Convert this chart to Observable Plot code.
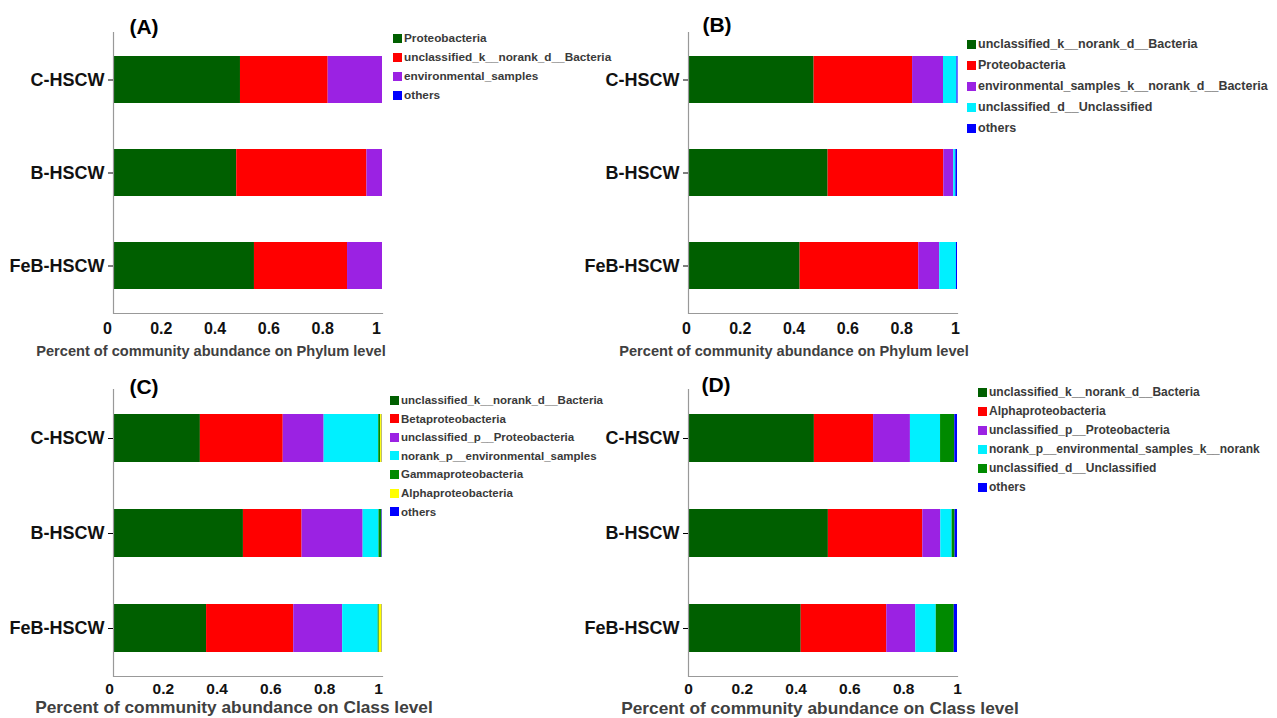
<!DOCTYPE html>
<html>
<head>
<meta charset="utf-8">
<script src="https://cdn.jsdelivr.net/npm/d3@7"></script>
<script src="https://cdn.jsdelivr.net/npm/@observablehq/plot@0.6"></script>
<style>
  html, body { margin: 0; padding: 0; background: #fff; }
  #root { position: relative; width: 1277px; height: 718px; overflow: hidden; font-family: "Liberation Sans", Arial, sans-serif; }
  .panel { position: absolute; }
  .lbl { position: absolute; white-space: nowrap; font-weight: bold; transform: translate(-50%, -50%); }
  .legrow { position: absolute; display: flex; align-items: center; white-space: nowrap; font-weight: bold; color: #3a3a3a; }
  .sw { display: inline-block; width: 9px; height: 9px; margin-right: 2px; }
</style>
</head>
<body>
<div id="root"></div>
<script>
// ---------- data ----------
const samples = ["C-HSCW", "B-HSCW", "FeB-HSCW"];
const xTicks = [0, 0.2, 0.4, 0.6, 0.8, 1];

// (A) Phylum
const taxaA = ["Proteobacteria", "unclassified_k__norank_d__Bacteria", "environmental_samples", "others"];
const colorsA = ["#005f00", "#ff0000", "#9b22e3", "#0000ff"];
const valuesA = [
  [0.472, 0.458, 0.524],
  [0.326, 0.484, 0.346],
  [0.202, 0.058, 0.130],
  [0.000, 0.000, 0.000]
];

// (B) Phylum
const taxaB = ["unclassified_k__norank_d__Bacteria", "Proteobacteria", "environmental_samples_k__norank_d__Bacteria", "unclassified_d__Unclassified", "others"];
const colorsB = ["#005f00", "#ff0000", "#9b22e3", "#00f0ff", "#0000ff"];
const valuesB = [
  [0.467, 0.519, 0.415],
  [0.366, 0.430, 0.441],
  [0.115, 0.037, 0.078],
  [0.050, 0.008, 0.062],
  [0.004, 0.006, 0.004]
];

// (C) Class
const taxaC = ["unclassified_k__norank_d__Bacteria", "Betaproteobacteria", "unclassified_p__Proteobacteria", "norank_p__environmental_samples", "Gammaproteobacteria", "Alphaproteobacteria", "others"];
const colorsC = ["#005f00", "#ff0000", "#9b22e3", "#00f0ff", "#008a00", "#ffff00", "#0000ff"];
const valuesC = [
  [0.323, 0.483, 0.346],
  [0.308, 0.218, 0.324],
  [0.152, 0.227, 0.182],
  [0.203, 0.059, 0.132],
  [0.007, 0.010, 0.004],
  [0.006, 0.001, 0.011],
  [0.001, 0.002, 0.001]
];

// (D) Class
const taxaD = ["unclassified_k__norank_d__Bacteria", "Alphaproteobacteria", "unclassified_p__Proteobacteria", "norank_p__environmental_samples_k__norank", "unclassified_d__Unclassified", "others"];
const colorsD = ["#005f00", "#ff0000", "#9b22e3", "#00f0ff", "#008a00", "#0000ff"];
const valuesD = [
  [0.468, 0.520, 0.419],
  [0.220, 0.351, 0.318],
  [0.137, 0.067, 0.108],
  [0.112, 0.042, 0.076],
  [0.053, 0.011, 0.067],
  [0.010, 0.009, 0.012]
];

// ---------- drawing ----------
const root = document.getElementById("root");

function tidy(taxa, values) {
  const out = [];
  taxa.forEach((t, i) => samples.forEach((s, j) => out.push({taxon: t, sample: s, value: values[i][j]})));
  return out;
}

function panel(cfg) {
  const data = tidy(cfg.taxa, cfg.values);
  const chart = Plot.plot({
    width: cfg.width,
    height: cfg.height,
    marginLeft: cfg.ml,
    marginRight: cfg.width - cfg.ml - 269,
    marginTop: cfg.mt,
    marginBottom: cfg.mb,
    style: {fontFamily: "'Liberation Sans', Arial, sans-serif", background: "transparent", overflow: "visible"},
    x: {domain: [0, 1]},
    y: {domain: samples, paddingInner: 0.5, paddingOuter: 0.25},
    color: {domain: cfg.taxa, range: cfg.colors},
    marks: [
      Plot.barX(data, {x: "value", y: "sample", fill: "taxon", order: cfg.taxa}),
      Plot.ruleX([0], {stroke: "#999", strokeWidth: 1.2}),
      Plot.frame({anchor: "bottom", stroke: "#999", strokeWidth: 1.2}),
      Plot.axisX({ticks: xTicks, tickFormat: d => String(+d.toFixed(1)), tickSize: 3, tickPadding: cfg.tp,
        fontSize: cfg.tfs, fontWeight: "bold", fill: "#111", stroke: null, label: null, textStroke: null, dx: cfg.tdx}),
      Plot.axisY({tickSize: 5, tickPadding: 4, fontSize: 18, fontWeight: "bold", fill: "#111", label: null})
    ]
  });
  const div = document.createElement("div");
  div.className = "panel";
  div.style.left = cfg.left + "px";
  div.style.top = cfg.top + "px";
  div.appendChild(chart);
  root.appendChild(div);
}

function text(str, cx, cy, size, color) {
  const d = document.createElement("div");
  d.className = "lbl";
  d.textContent = str;
  d.style.left = cx + "px";
  d.style.top = cy + "px";
  d.style.fontSize = size + "px";
  d.style.color = color;
  root.appendChild(d);
}

function legend(taxa, colors, x, y0, dy, fs) {
  taxa.forEach((t, i) => {
    const r = document.createElement("div");
    r.className = "legrow";
    r.style.left = x + "px";
    r.style.top = (y0 + i * dy - 8) + "px";
    r.style.height = "16px";
    r.style.fontSize = fs + "px";
    const sw = document.createElement("span");
    sw.className = "sw";
    sw.style.background = colors[i];
    r.appendChild(sw);
    r.appendChild(document.createTextNode(t));
    root.appendChild(r);
  });
}

panel({taxa: taxaA, colors: colorsA, values: valuesA, left: 0, top: 0, width: 640, height: 360, ml: 113, mt: 32, mb: 47, tp: 6, tfs: 16, tdx: -6});
panel({taxa: taxaB, colors: colorsB, values: valuesB, left: 575, top: 0, width: 640, height: 360, ml: 113, mt: 32, mb: 47, tp: 6, tfs: 16, tdx: -2});
panel({taxa: taxaC, colors: colorsC, values: valuesC, left: 0, top: 360, width: 640, height: 358, ml: 113, mt: 29, mb: 42, tp: 3, tfs: 15.5, tdx: -4});
panel({taxa: taxaD, colors: colorsD, values: valuesD, left: 575, top: 360, width: 640, height: 358, ml: 113, mt: 29, mb: 42, tp: 3, tfs: 15.5, tdx: 0});

text("(A)", 144, 27, 21, "#000");
text("(B)", 717, 25, 21, "#000");
text("(C)", 144, 387, 21, "#000");
text("(D)", 716, 385, 21, "#000");

text("Percent of community abundance on Phylum level", 211, 351, 14.6, "#404040");
text("Percent of community abundance on Phylum level", 794, 351, 14.6, "#404040");
text("Percent of community abundance on Class level", 234, 707, 17.3, "#404040");
text("Percent of community abundance on Class level", 820, 708, 17.3, "#404040");

legend(taxaA, colorsA, 393, 38, 19, 11.8);
legend(taxaB, colorsB, 967, 44, 21, 12.5);
legend(taxaC, colorsC, 390, 400, 18.6, 11.5);
legend(taxaD, colorsD, 978, 392, 19, 12);
</script>
</body>
</html>
